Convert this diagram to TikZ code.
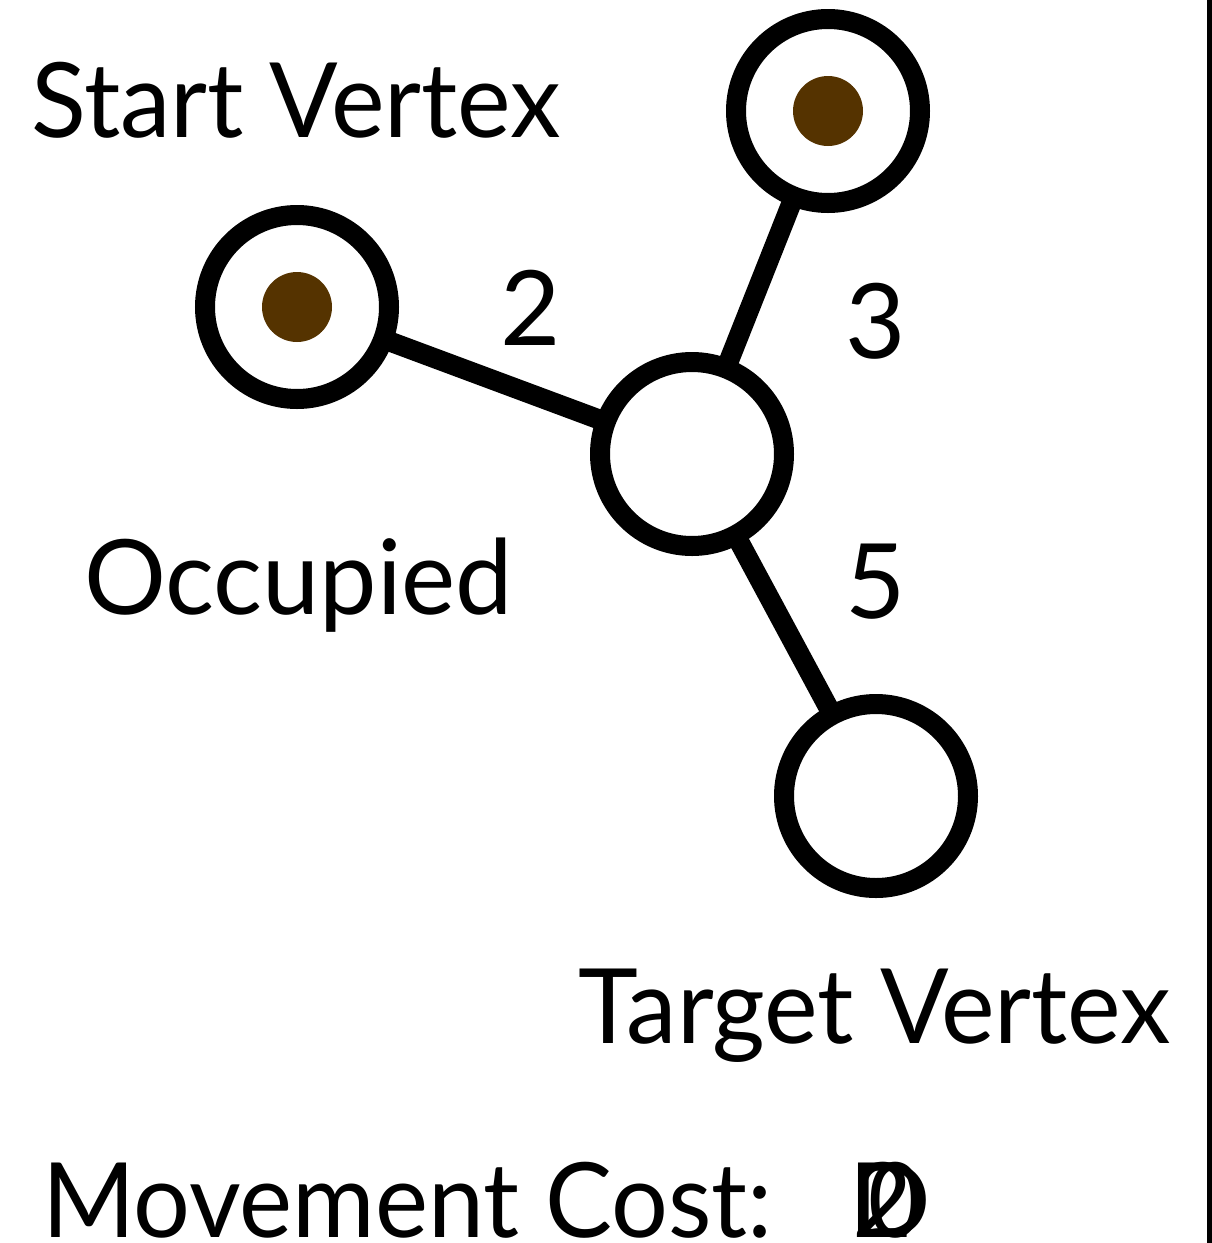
\documentclass[tikz,border=0pt]{standalone}
\usepackage{fontspec}
\setmainfont{Lato}
\usetikzlibrary{backgrounds}
\definecolor{tokenbrown}{HTML}{553300}
\tikzset{
  vertex/.style={circle, draw=black, line width=20pt, fill=white, minimum size=184pt, inner sep=0pt, outer sep=0pt},
  token/.style={circle, fill=tokenbrown, minimum size=70pt, inner sep=0pt},
  edge/.style={draw=black, line width=20pt},
  lbl/.style={font=\fontsize{104}{110}\selectfont, inner sep=0pt, anchor=base west},
}
\newcommand{\narrowtext}[2]{\scalebox{#1}[1]{#2}}
\begin{document}
\begin{tikzpicture}[x=1pt,y=-1pt]
\useasboundingbox (0,0) rectangle (1212,1243);
\node[vertex] (start) at (828,111) {};
\node[token] (starttok) at (828,111) {};
\node[vertex] (occ) at (297,307) {};
\node[token] (occtok) at (297,307) {};
\node[vertex] (mid) at (692,454) {};
\node[vertex] (target) at (876,796) {};
\begin{pgfonlayer}{background}
\draw[edge] (occ.center) -- (mid.center);
\draw[edge] (start.center) -- (mid.center);
\draw[edge] (mid.center) -- (target.center);
\end{pgfonlayer}
\node[lbl] (tstart) at (31,137) {\narrowtext{0.975}{Start Vertex}};
\node[lbl] (tocc) at (84,614) {\narrowtext{0.985}{Occupied}};
\node[lbl] (ttarget) at (578,1043) {\narrowtext{0.975}{Target Vertex}};
\node[lbl] (c2) at (500,345) {2};
\node[lbl] (c3) at (845,358) {3};
\node[lbl] (c5) at (845,618) {5};
\node[lbl] (tcost) at (42,1237) {\narrowtext{0.965}{Movement Cost:}};
\node[lbl] (costa) at (848,1237) {\narrowtext{1.05}{D}};
\node[lbl] (costb) at (852,1237) {2};
\node[lbl] (costc) at (868,1237) {\narrowtext{0.9}{0}};
\coordinate (rt) at (1209,0);
\coordinate (rb) at (1209,1243);
\draw[line width=5pt] (rt) -- (rb);
\end{tikzpicture}
\end{document}
